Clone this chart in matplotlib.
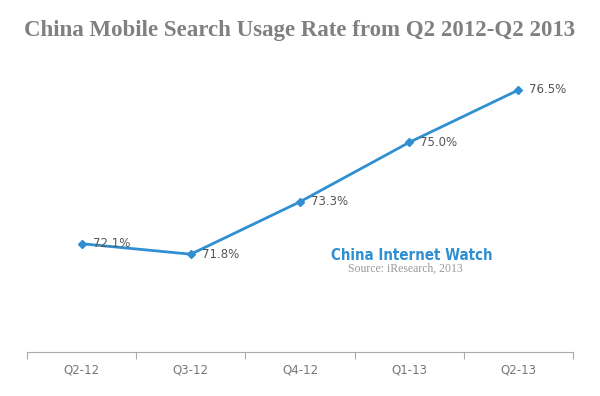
import matplotlib
matplotlib.use("Agg")
import matplotlib.pyplot as plt

categories = ["Q2-12", "Q3-12", "Q4-12", "Q1-13", "Q2-13"]
values = [72.1, 71.8, 73.3, 75.0, 76.5]
labels = ["72.1%", "71.8%", "73.3%", "75.0%", "76.5%"]

fig = plt.figure(figsize=(6, 3.96), dpi=100)
ax = fig.add_axes([0.045, 0.111, 0.91, 0.75])
x = list(range(len(categories)))
ax.plot(x, values, color="#2f8fd1", lw=2, marker="D", ms=4.5, zorder=3)
for xi, v, l in zip(x, values, labels):
    ax.text(xi + 0.1, v, l, fontsize=8.5, color="#555555", va="center", ha="left", zorder=4)

ax.set_xlim(-0.5, 4.5)
ax.set_ylim(69, 77.5)
for s in ["top", "right", "left"]:
    ax.spines[s].set_visible(False)
ax.spines["bottom"].set_color("#aaaaaa")
ax.set_yticks([])
ax.set_xticks([i - 0.5 for i in range(6)], minor=False)
ax.set_xticklabels([])
ax.tick_params(axis="x", length=5, color="#aaaaaa", direction="out")
for xi, c in zip(x, categories):
    ax.text(xi, -0.06, c, transform=ax.get_xaxis_transform(), ha="center", va="center",
            fontsize=8.5, color="#777777")

fig.text(0.5, 0.922, "China Mobile Search Usage Rate from Q2 2012-Q2 2013", ha="center", va="center",
         fontsize=16.5, fontweight="bold", color="#808080", family="Liberation Serif")
fig.text(0.687, 0.355, "China Internet Watch", ha="center", va="center", fontsize=10.8,
         fontweight="bold", color="#2f8fd1", family="DejaVu Sans", fontstretch="condensed")
fig.text(0.675, 0.322, "Source: iResearch, 2013", ha="center", va="center", fontsize=8.5,
         color="#999999", family="Liberation Serif")

fig.savefig("out.png", dpi=100)
